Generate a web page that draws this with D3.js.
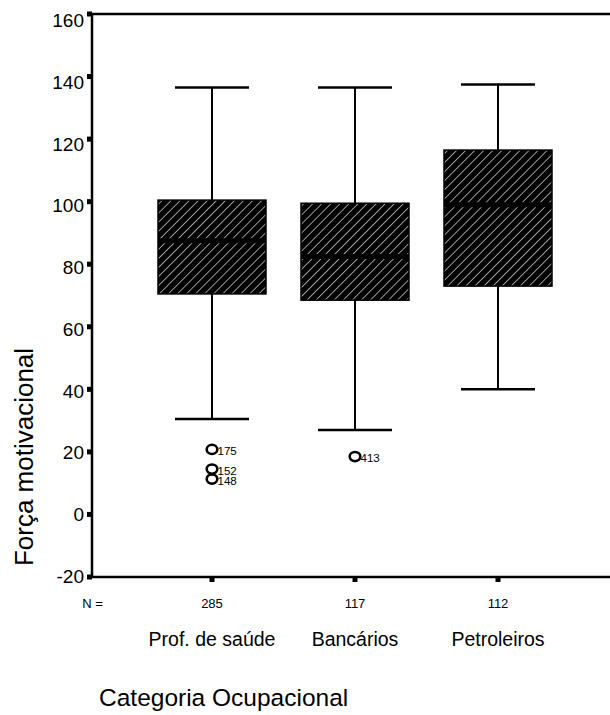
<!DOCTYPE html>
<html>
<head>
<meta charset="utf-8">
<script src="https://cdn.jsdelivr.net/npm/d3@7"></script>
<style>
  body { margin: 0; background: #fff; }
  svg { font-family: "Liberation Sans", Arial, sans-serif; }
</style>
</head>
<body>
<svg id="chart" width="610" height="715"></svg>
<script>
// --- data ---
const categories = ["Prof. de saúde", "Bancários", "Petroleiros"];
const counts = [285, 117, 112];
const whiskerLow = [30.5, 27, 40];
const q1 = [70.5, 68.5, 73];
const medians = [87.5, 82.5, 99];
const q3 = [100.5, 99.5, 116.5];
const whiskerHigh = [136.5, 136.5, 137.5];
const outliers = [
    { cat: 0, value: 20.8, label: "175" },
    { cat: 0, value: 14.5, label: "152" },
    { cat: 0, value: 11.3, label: "148" },
    { cat: 1, value: 18.5, label: "413" }
];
const yTicks = [-20, 0, 20, 40, 60, 80, 100, 120, 140, 160];

// --- layout ---
const svg = d3.select("#chart");
const plotLeft = 92, plotTop = 14, plotBottom = 577, plotRight = 640;

const y = d3.scaleLinear().domain([-20, 160]).range([plotBottom, plotTop]);
// tick label baselines drift slightly from the tick squares (as in the original output)
const yLabel = d3.scaleLinear().domain([-20, 160]).range([plotBottom + 6, plotTop + 13]);
const x = d3.scalePoint().domain(categories).range([212, 498]);

const boxW = 108, capW = 74;

// hatch pattern
const defs = svg.append("defs");
const pat = defs.append("pattern")
    .attr("id", "hatch")
    .attr("patternUnits", "userSpaceOnUse")
    .attr("width", 6.4)
    .attr("height", 6.4)
    .attr("patternTransform", "rotate(45)");
pat.append("rect").attr("width", 6.4).attr("height", 6.4).attr("fill", "#000");
pat.append("line")
    .attr("x1", 0).attr("y1", 0).attr("x2", 0).attr("y2", 6.4)
    .attr("stroke", "#d8d8d8").attr("stroke-width", 1.4);

// --- frame ---
svg.append("line")
    .attr("x1", plotLeft).attr("x2", plotRight).attr("y1", plotTop).attr("y2", plotTop)
    .attr("stroke", "#000").attr("stroke-width", 2.5);
svg.append("line")
    .attr("x1", plotLeft).attr("x2", plotRight).attr("y1", plotBottom).attr("y2", plotBottom)
    .attr("stroke", "#000").attr("stroke-width", 2.5);
svg.append("line")
    .attr("x1", plotLeft).attr("x2", plotLeft).attr("y1", plotTop).attr("y2", plotBottom)
    .attr("stroke", "#000").attr("stroke-width", 2.5);

// y ticks (little squares) + labels
svg.selectAll(".ytick")
    .data(yTicks)
    .join("rect")
    .attr("class", "ytick")
    .attr("x", plotLeft - 5)
    .attr("y", d => y(d) - 2.5)
    .attr("width", 5)
    .attr("height", 5)
    .attr("fill", "#000");

svg.selectAll(".ylab")
    .data(yTicks)
    .join("text")
    .attr("class", "ylab")
    .attr("x", plotLeft - 8)
    .attr("y", d => yLabel(d))
    .attr("text-anchor", "end")
    .attr("font-size", "19px")
    .text(d => d);

// x ticks
svg.selectAll(".xtick")
    .data(categories)
    .join("rect")
    .attr("class", "xtick")
    .attr("x", d => x(d) - 2.5)
    .attr("y", plotBottom)
    .attr("width", 5)
    .attr("height", 5)
    .attr("fill", "#000");

// --- boxes ---
const boxes = svg.append("g");
categories.forEach((c, i) => {
    const cx = x(c);
    const g = boxes.append("g");
    // whiskers
    g.append("line")
        .attr("x1", cx).attr("x2", cx)
        .attr("y1", y(whiskerHigh[i])).attr("y2", y(q3[i]))
        .attr("stroke", "#000").attr("stroke-width", 2);
    g.append("line")
        .attr("x1", cx).attr("x2", cx)
        .attr("y1", y(q1[i])).attr("y2", y(whiskerLow[i]))
        .attr("stroke", "#000").attr("stroke-width", 2);
    g.append("line")
        .attr("x1", cx - capW / 2).attr("x2", cx + capW / 2)
        .attr("y1", y(whiskerHigh[i])).attr("y2", y(whiskerHigh[i]))
        .attr("stroke", "#000").attr("stroke-width", 2.5);
    g.append("line")
        .attr("x1", cx - capW / 2).attr("x2", cx + capW / 2)
        .attr("y1", y(whiskerLow[i])).attr("y2", y(whiskerLow[i]))
        .attr("stroke", "#000").attr("stroke-width", 2.5);
    // box
    g.append("rect")
        .attr("x", cx - boxW / 2)
        .attr("y", y(q3[i]))
        .attr("width", boxW)
        .attr("height", y(q1[i]) - y(q3[i]))
        .attr("fill", "url(#hatch)")
        .attr("stroke", "#000")
        .attr("stroke-width", 1.5);
    // median
    g.append("line")
        .attr("x1", cx - boxW / 2).attr("x2", cx + boxW / 2)
        .attr("y1", y(medians[i])).attr("y2", y(medians[i]))
        .attr("stroke", "#000").attr("stroke-width", 5);
});

// --- outliers ---
const out = svg.append("g");
out.selectAll("ellipse")
    .data(outliers)
    .join("ellipse")
    .attr("cx", d => x(categories[d.cat]))
    .attr("cy", d => y(d.value))
    .attr("rx", 5.3)
    .attr("ry", 4.6)
    .attr("fill", "none")
    .attr("stroke", "#000")
    .attr("stroke-width", 2.6);
out.selectAll("text")
    .data(outliers)
    .join("text")
    .attr("x", d => x(categories[d.cat]) + 5.5)
    .attr("y", d => y(d.value) + 5.5)
    .attr("font-size", "11.5px")
    .text(d => d.label);

// --- N labels ---
svg.append("text")
    .attr("x", 92.5)
    .attr("y", 608)
    .attr("text-anchor", "middle")
    .attr("font-size", "13px")
    .text("N =");
svg.selectAll(".nlab")
    .data(counts)
    .join("text")
    .attr("class", "nlab")
    .attr("x", (d, i) => x(categories[i]))
    .attr("y", 608)
    .attr("text-anchor", "middle")
    .attr("font-size", "13px")
    .text(d => d);

// category labels
svg.selectAll(".clab")
    .data(categories)
    .join("text")
    .attr("class", "clab")
    .attr("x", d => x(d))
    .attr("y", 646)
    .attr("text-anchor", "middle")
    .attr("font-size", "19.5px")
    .text(d => d);

// axis titles
svg.append("text")
    .attr("x", 99)
    .attr("y", 706)
    .attr("font-size", "24.5px")
    .text("Categoria Ocupacional");

svg.append("text")
    .attr("transform", "translate(33,457) rotate(-90)")
    .attr("text-anchor", "middle")
    .attr("font-size", "26px")
    .text("Força motivacional");
</script>
</body>
</html>
